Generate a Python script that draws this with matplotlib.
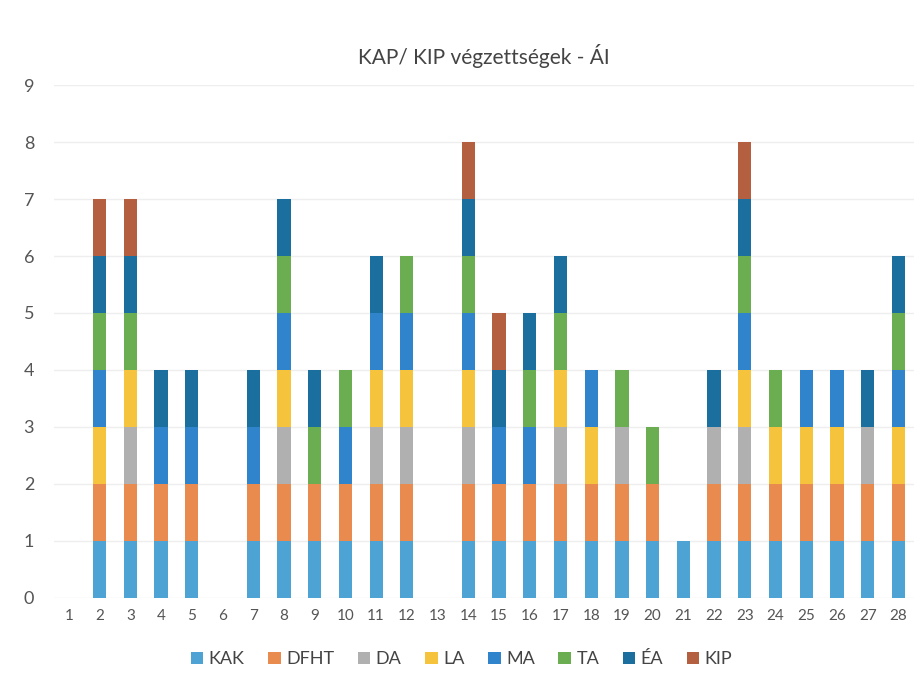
import numpy as np
import matplotlib
matplotlib.use("Agg")
import matplotlib.pyplot as plt

plt.rcParams["font.family"] = ["Lato", "DejaVu Sans"]

categories = list(range(1, 29))
series = ["KAK", "DFHT", "DA", "LA", "MA", "TA", "ÉA", "KIP"]
colors = ["#4da3d4", "#e98a4e", "#b0b0b0", "#f6c43c", "#2f84cc", "#6bae52", "#1b6f9f", "#b45f40"]

# 0/1 per category (1..28)
KAK  = [0,1,1,1,1,0,1,1,1,1,1,1,0,1,1,1,1,1,1,1,1,1,1,1,1,1,1,1]
DFHT = [0,1,1,1,1,0,1,1,1,1,1,1,0,1,1,1,1,1,1,1,0,1,1,1,1,1,1,1]
DA   = [0,0,1,0,0,0,0,1,0,0,1,1,0,1,0,0,1,0,1,0,0,1,1,0,0,0,1,0]
LA   = [0,1,1,0,0,0,0,1,0,0,1,1,0,1,0,0,1,1,0,0,0,0,1,1,1,1,0,1]
MA   = [0,1,0,1,1,0,1,1,0,1,1,1,0,1,1,1,0,1,0,0,0,0,1,0,1,1,0,1]
TA   = [0,1,1,0,0,0,0,1,1,1,0,1,0,1,0,1,1,0,1,1,0,0,1,1,0,0,0,1]
EA   = [0,1,1,1,1,0,1,1,1,0,1,0,0,1,1,1,1,0,0,0,0,1,1,0,0,0,1,1]
KIP  = [0,1,1,0,0,0,0,0,0,0,0,0,0,1,1,0,0,0,0,0,0,0,1,0,0,0,0,0]
values = [KAK, DFHT, DA, LA, MA, TA, EA, KIP]

fig = plt.figure(figsize=(9.23, 6.87), dpi=100)
ax = fig.add_axes([0.058, 0.13, 0.932, 0.746])

x = np.arange(len(categories))
bottom = np.zeros(len(categories))
for name, vals, c in zip(series, values, colors):
    ax.bar(x, vals, bottom=bottom, width=0.43, color=c, label=name, zorder=3)
    bottom += np.array(vals)

ax.set_xlim(-0.5, len(categories) - 0.5)
ax.set_ylim(0, 9)
ax.set_yticks(range(10))
ax.set_xticks(x)
ax.set_xticklabels([str(c) for c in categories])
ax.grid(axis="y", color="#eeeeee", lw=1, zorder=0)
for s in ax.spines.values():
    s.set_visible(False)
ax.tick_params(length=0, colors="#555555")
ax.tick_params(axis="y", labelsize=13, pad=14)
ax.tick_params(axis="x", labelsize=11, pad=8)

ax.set_title("KAP/ KIP végzettségek - ÁI", fontsize=15, color="#444444", pad=15)

fig.legend(loc="lower center", bbox_to_anchor=(0.5, 0.005), ncol=8, frameon=False,
           fontsize=13, handlelength=0.7, handleheight=0.7, handletextpad=0.3,
           columnspacing=1.3, labelcolor="#444444")

fig.savefig("out.png", dpi=100)
